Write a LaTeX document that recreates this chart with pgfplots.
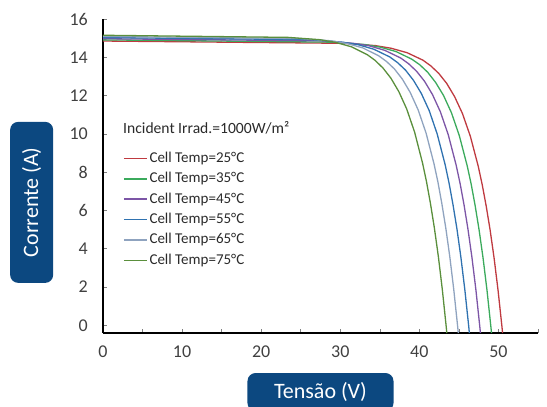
\documentclass[border=0pt]{standalone}
\usepackage{pgfplots}
\pgfplotsset{compat=1.18}
\usepackage{fontspec}
\setmainfont{Carlito}
\definecolor{boxblue}{HTML}{0C4880}
\definecolor{tickgray}{HTML}{404040}
\definecolor{legtext}{HTML}{2A2A2A}
\definecolor{c25}{HTML}{BF3A40}
\definecolor{c35}{HTML}{3BAA5C}
\definecolor{c45}{HTML}{7C55A6}
\definecolor{c55}{HTML}{2F72B0}
\definecolor{c65}{HTML}{8FA3BF}
\definecolor{c75}{HTML}{5A8F3C}
\begin{document}
\begin{tikzpicture}
\useasboundingbox (-103bp,-74bp) rectangle (444bp,333bp);
\begin{axis}[
  scale only axis, width=435bp, height=314bp,
  xmin=0, xmax=55, ymin=-0.4, ymax=16,
  axis x line=bottom, axis y line=left,
  axis line style={-, line width=1.6bp, black},
  xtick={0,5,...,55}, xticklabels={0,,10,,20,,30,,40,,50,},
  ytick={0,2,...,16},
  tick align=inside, major tick length=4bp,
  tick style={gray, line width=0.6bp},
  ticklabel style={font=\fontsize{18bp}{20bp}\selectfont, text=tickgray},
  /pgf/number format/assume math mode=true,
  xticklabel style={inner sep=0pt, yshift=-13bp},
  yticklabel style={inner sep=0pt, xshift=-15bp},
  xlabel={Tensão (V)},
  ylabel={Corrente (A)},
  xlabel style={at={(axis description cs:0.5,-0.188)}, anchor=center,
    fill=boxblue, text=white, rounded corners=8bp, minimum width=146bp,
    minimum height=38bp, font=\fontsize{22bp}{24bp}\selectfont},
  ylabel style={at={(axis description cs:-0.164,0.416)}, anchor=center,
    fill=boxblue, text=white, rounded corners=8bp, minimum width=161bp,
    minimum height=43bp, font=\fontsize{22bp}{24bp}\selectfont},
  legend style={at={(axis description cs:0.046,0.580)}, anchor=north west,
    draw=none, fill=none, inner sep=0pt, outer sep=0pt,
    font=\fontsize{15bp}{17bp}\selectfont, text=legtext,
    row sep=5.4bp, column sep=1.5bp,
    nodes={inner sep=0.5bp, text height=11bp, text depth=3bp}},
  legend cell align=left,
  legend image code/.code={\draw[#1, line width=1.5bp] (0bp,0bp) -- (23bp,0bp);},
  every axis plot/.append style={line width=1.3bp},
]
\addplot[c25] coordinates {(0,14.85) (30.45,14.73) (34.45,14.61) (36.45,14.47) (38.45,14.24) (40.45,13.85) (41.45,13.55) (42.45,13.16) (43.45,12.64) (44.45,11.95) (45.45,11.06) (46.45,9.87) (47.45,8.30) (47.95,7.34) (48.45,6.23) (48.95,4.97) (49.45,3.51) (49.95,1.83) (50.45,-0.10) (50.52,-0.4)};
\addlegendentry{Cell Temp=25°C}
\addplot[c35] coordinates {(0,14.91) (29.05,14.79) (33.05,14.67) (35.05,14.53) (37.05,14.30) (39.05,13.90) (40.05,13.61) (41.05,13.22) (42.05,12.69) (43.05,12.01) (44.05,11.11) (45.05,9.91) (46.05,8.33) (46.55,7.38) (47.05,6.26) (47.55,4.99) (48.05,3.53) (48.55,1.84) (49.05,-0.10) (49.12,-0.4)};
\addlegendentry{Cell Temp=35°C}
\addplot[c45] coordinates {(0,14.97) (27.65,14.86) (31.65,14.73) (33.65,14.60) (35.65,14.36) (37.65,13.96) (38.65,13.66) (39.65,13.27) (40.65,12.75) (41.65,12.06) (42.65,11.16) (43.65,9.96) (44.65,8.37) (45.15,7.41) (45.65,6.29) (46.15,5.01) (46.65,3.54) (47.15,1.85) (47.65,-0.10) (47.72,-0.4)};
\addlegendentry{Cell Temp=45°C}
\addplot[c55] coordinates {(0,15.03) (26.25,14.92) (30.25,14.79) (32.25,14.66) (34.25,14.42) (36.25,14.02) (37.25,13.72) (38.25,13.33) (39.25,12.80) (40.25,12.11) (41.25,11.21) (42.25,10.00) (43.25,8.41) (43.75,7.44) (44.25,6.31) (44.75,5.04) (45.25,3.56) (45.75,1.86) (46.25,-0.09) (46.32,-0.4)};
\addlegendentry{Cell Temp=55°C}
\addplot[c65] coordinates {(0,15.09) (24.85,14.98) (28.85,14.86) (30.85,14.72) (32.85,14.49) (34.85,14.08) (35.85,13.78) (36.85,13.39) (37.85,12.86) (38.85,12.16) (39.85,11.25) (40.85,10.04) (41.85,8.44) (42.35,7.48) (42.85,6.34) (43.35,5.06) (43.85,3.58) (44.35,1.87) (44.85,-0.09) (44.92,-0.4)};
\addlegendentry{Cell Temp=65°C}
\addplot[c75] coordinates {(0,15.15) (23.4,15.04) (27.4,14.92) (29.4,14.78) (31.4,14.55) (33.4,14.14) (34.4,13.84) (35.4,13.44) (36.4,12.91) (37.4,12.21) (38.4,11.30) (39.4,10.09) (40.4,8.48) (40.9,7.51) (41.4,6.37) (41.9,5.08) (42.4,3.60) (42.9,1.88) (43.4,-0.09) (43.47,-0.4)};
\addlegendentry{Cell Temp=75°C}
\node[anchor=west, inner sep=0pt, text=legtext, font=\fontsize{15.6bp}{17bp}\selectfont]
  at (axis description cs:0.046,0.653) {Incident Irrad.=1000W/m²};
\end{axis}
\end{tikzpicture}
\end{document}
